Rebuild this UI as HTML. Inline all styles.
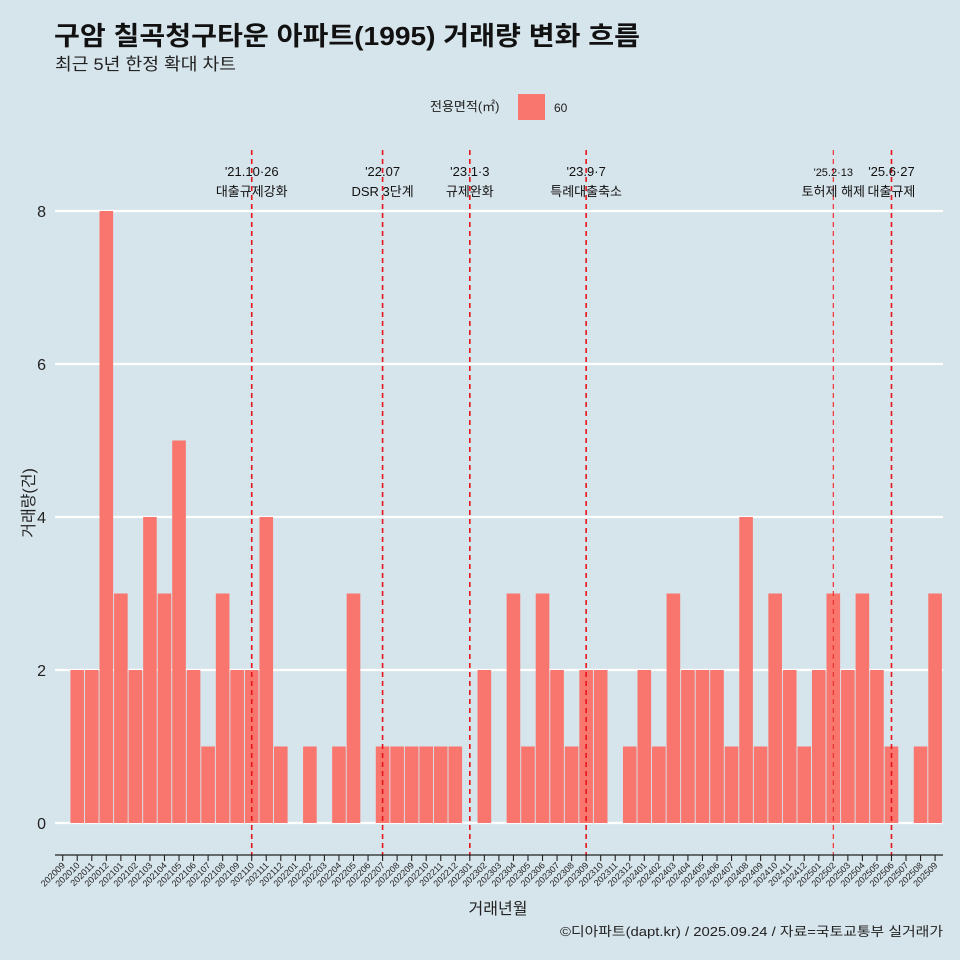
<!DOCTYPE html>
<html><head><meta charset="utf-8">
<style>
body{margin:0;background:#d6e4eb;}
svg{display:block;font-family:"Liberation Sans","Noto Sans CJK KR",sans-serif;}
</style></head>
<body>
<svg id="chart" width="960" height="960" viewBox="0 0 960 960">
<rect width="960" height="960" fill="#d6e4eb"/>
<text x="54" y="45" font-size="26" font-weight="bold" fill="#111" textLength="586" lengthAdjust="spacingAndGlyphs">구암 칠곡청구타운 아파트(1995) 거래량 변화 흐름</text>
<text x="55" y="70" font-size="17" fill="#222" textLength="181" lengthAdjust="spacingAndGlyphs">최근 5년 한정 확대 차트</text>
<g>
<text x="430" y="111" font-size="13" fill="#222">전용면적(㎡)</text>
<rect x="518" y="94" width="27" height="26" fill="#f8766d"/>
<text x="554" y="112" font-size="12" fill="#222">60</text>
</g>
<g id="grid"></g><g id="bars"></g><g id="events"></g><g id="xaxis"></g><g id="yaxis"></g>
<text x="498" y="914" font-size="16" text-anchor="middle" fill="#222">거래년월</text>
<text transform="translate(34,503) rotate(-90)" font-size="16" text-anchor="middle" fill="#222">거래량(건)</text>
<text x="560" y="936" font-size="13" fill="#222" textLength="383" lengthAdjust="spacingAndGlyphs">©디아파트(dapt.kr) / 2025.09.24 / 자료=국토교통부 실거래가</text>
</svg>
<script>
const months=["202009","202010","202011","202012","202101","202102","202103","202104","202105","202106","202107","202108","202109","202110","202111","202112","202201","202202","202203","202204","202205","202206","202207","202208","202209","202210","202211","202212","202301","202302","202303","202304","202305","202306","202307","202308","202309","202310","202311","202312","202401","202402","202403","202404","202405","202406","202407","202408","202409","202410","202411","202412","202501","202502","202503","202504","202505","202506","202507","202508","202509"];
const counts=[0,2,2,8,3,2,4,3,5,2,1,3,2,2,4,1,0,1,0,1,3,0,1,1,1,1,1,1,0,2,0,3,1,3,2,1,2,2,0,1,2,1,3,2,2,2,1,4,1,3,2,1,2,3,2,3,2,1,0,1,3];
const yTicks=[0,2,4,6,8];
const eventMonths=["202110","202207","202301","202309","202502","202506"];
const eventDates=["'21.10·26","'22.07","'23.1·3","'23.9·7","'25.2·13","'25.6·27"];
const eventLabels=["대출규제강화","DSR 3단계","규제완화","특례대출축소","토허제 해제","대출규제"];

const NS="http://www.w3.org/2000/svg";
const x0=62.7,step=14.54,yZero=823,yUnit=76.5;
const xs=i=>x0+step*i;
const ys=v=>yZero-v*yUnit;
function mk(tag,attrs,parent){const e=document.createElementNS(NS,tag);for(const k in attrs)e.setAttribute(k,attrs[k]);parent.appendChild(e);return e;}
const grid=document.getElementById('grid'),bars=document.getElementById('bars'),ev=document.getElementById('events'),xa=document.getElementById('xaxis'),ya=document.getElementById('yaxis');
yTicks.forEach(t=>{
 const l=mk('line',{x1:55,x2:943,y1:ys(t),y2:ys(t),stroke:'#fff','stroke-width':2.2},grid);
 
 
 const tx=mk('text',{x:46,y:ys(t)+6,'font-size':16,'text-anchor':'end',fill:'#222'},ya);
 tx.textContent=t;
 
 
});
counts.forEach((c,i)=>{
 if(c<=0)return;
 const r=mk('rect',{x:xs(i)-6.8,y:ys(c),width:13.6,height:c*yUnit,fill:'#f8766d'},bars);
 
 
});
mk('line',{x1:55,x2:943,y1:855,y2:855,stroke:'#222','stroke-width':1.2},xa);
months.forEach((m,i)=>{
 const t=mk('line',{x1:xs(i),x2:xs(i),y1:855,y2:861,stroke:'#222','stroke-width':1.1},xa);
 
 
 const tx=mk('text',{transform:`translate(${xs(i)+3},${866}) rotate(-45)`,'font-size':9,'text-anchor':'end',fill:'#222'},xa);
 tx.textContent=m;
 
 
});
eventMonths.forEach((m,k)=>{
 const i=months.indexOf(m),x=xs(i),thin=(m==="202502");
 const l=mk('line',{x1:x,x2:x,y1:150,y2:856,stroke:thin?'#f03030':'#e8141c','stroke-width':thin?1.2:1.6,'stroke-dasharray':'5,4'},ev);
 
 
 const d=mk('text',{x:x,y:176,'font-size':thin?11:13,'text-anchor':'middle',fill:'#111'},ev);
 d.textContent=eventDates[k];
 
 
 const t=mk('text',{x:x,y:196,'font-size':13,'text-anchor':'middle',fill:'#111'},ev);
 t.textContent=eventLabels[k];
 
 
});
</script>
</body></html>
